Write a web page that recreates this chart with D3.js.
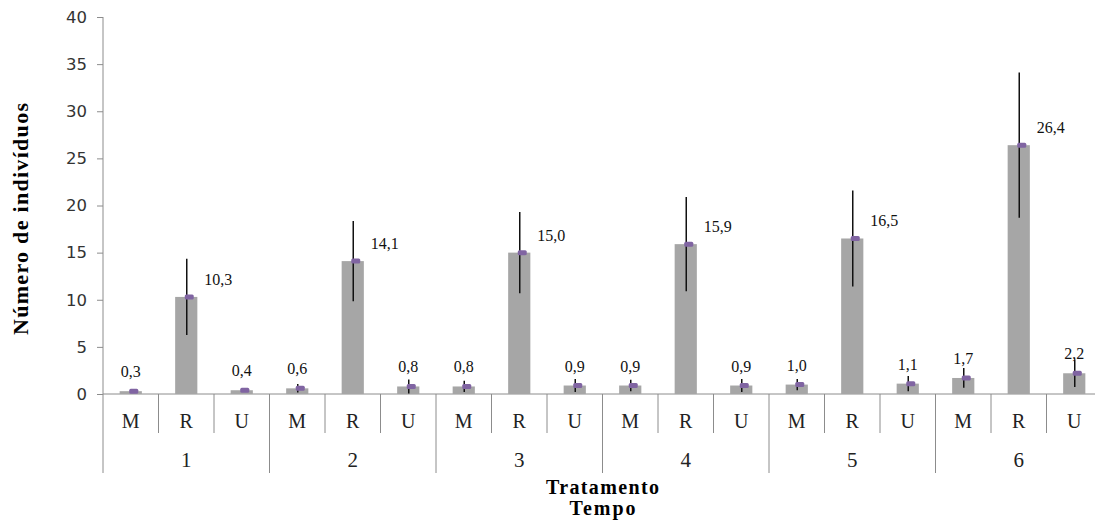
<!DOCTYPE html>
<html>

<head>
    <meta charset="UTF-8" />
    <title>Número de indivíduos</title>
    <style>
        body {
            margin: 0;
            padding: 0;
            background-color: #fff;
            overflow: hidden;
        }

        svg {
            display: block;
        }

        .axis text {
            fill: #333;
        }
    </style>
</head>

<body>
    <div class="container"></div>

    <script src="https://cdnjs.cloudflare.com/ajax/libs/d3/7.8.5/d3.min.js"></script>
    <script>
        // data
        const tempos = ["1", "2", "3", "4", "5", "6"]
        const tratamentos = ["M", "R", "U"]
        const meanM = [0.3, 0.6, 0.8, 0.9, 1.0, 1.7]
        const meanR = [10.3, 14.1, 15.0, 15.9, 16.5, 26.4]
        const meanU = [0.4, 0.8, 0.9, 0.9, 1.1, 2.2]
        const errM = [0.2, 0.45, 0.6, 0.6, 0.6, 1.05]
        const errR = [4.05, 4.25, 4.3, 5.0, 5.1, 7.7]
        const errU = [0.2, 0.75, 0.7, 0.7, 0.8, 1.45]
        const yTicks = [0, 5, 10, 15, 20, 25, 30, 35, 40]

        const drawChart = () => {
            const width = 1095
            const height = 523
            const margin = { left: 103, right: -7, top: 17, bottom: 129 }

            const means = { M: meanM, R: meanR, U: meanU }
            const errs = { M: errM, R: errR, U: errU }

            // one row per bar, tempo x tratamento
            const rows = tempos.flatMap((t, i) => tratamentos.map(tr => ({
                key: t + "-" + tr,
                tempo: t,
                trat: tr,
                value: means[tr][i],
                err: errs[tr][i]
            })))

            const svg = d3.select('.container').append('svg')
                .attr('width', width)
                .attr('height', height)

            const x = d3.scaleBand()
                .domain(rows.map(d => d.key))
                .range([margin.left, width - margin.right])
                .paddingInner(0.6)
                .paddingOuter(0.3)

            const y = d3.scaleLinear()
                .domain([0, 40])
                .range([height - margin.bottom, margin.top])

            const step = x.step()
            const x0 = margin.left
            const y0 = y(0)
            const axisColor = "#8c8c8c"
            const serif = "'Liberation Serif', 'Times New Roman', serif"

            // y axis
            const yAxis = svg.append('g')
                .attr('class', 'axis')
                .attr('transform', `translate(${x0},0)`)
                .call(d3.axisLeft(y).tickValues(yTicks).tickSize(6).tickPadding(10).tickFormat(d3.format('d')))
            yAxis.select('.domain').remove()
            yAxis.selectAll('line').attr('stroke', axisColor)
            yAxis.selectAll('text')
                .attr('font-family', "'DejaVu Sans', Verdana, sans-serif")
                .attr('font-size', 16.5)

            svg.append('line')
                .attr('x1', x0).attr('x2', x0)
                .attr('y1', y(40)).attr('y2', y0 + 79)
                .attr('stroke', axisColor)

            // x axis baseline
            svg.append('line')
                .attr('x1', x0).attr('x2', width - margin.right)
                .attr('y1', y0).attr('y2', y0)
                .attr('stroke', axisColor)

            // separators between categories, longer between groups
            d3.range(1, rows.length + 1).forEach(i => {
                svg.append('line')
                    .attr('x1', x0 + i * step).attr('x2', x0 + i * step)
                    .attr('y1', y0)
                    .attr('y2', i % 3 === 0 ? y0 + 79 : y0 + 39)
                    .attr('stroke', axisColor)
            })

            // category labels
            svg.append('g')
                .selectAll('text')
                .data(rows)
                .join('text')
                .attr('x', d => x(d.key) + x.bandwidth() / 2)
                .attr('y', y0 + 34)
                .attr('text-anchor', 'middle')
                .attr('font-family', serif)
                .attr('font-size', 20)
                .attr('fill', '#222')
                .text(d => d.trat)

            // group labels
            svg.append('g')
                .selectAll('text')
                .data(tempos)
                .join('text')
                .attr('x', (d, i) => x0 + (i * 3 + 1.5) * step)
                .attr('y', y0 + 73)
                .attr('text-anchor', 'middle')
                .attr('font-family', serif)
                .attr('font-size', 21)
                .attr('fill', '#222')
                .text(d => d)

            // bars
            svg.append('g')
                .selectAll('rect')
                .data(rows)
                .join('rect')
                .attr('x', d => x(d.key))
                .attr('y', d => y(d.value))
                .attr('width', x.bandwidth())
                .attr('height', d => y0 - y(d.value))
                .attr('fill', '#a6a6a6')

            // error bars (no caps)
            svg.append('g')
                .selectAll('line')
                .data(rows)
                .join('line')
                .attr('x1', d => x(d.key) + x.bandwidth() / 2 + 0.5)
                .attr('x2', d => x(d.key) + x.bandwidth() / 2 + 0.5)
                .attr('y1', d => y(d.value + d.err))
                .attr('y2', d => y(Math.max(0, d.value - d.err)))
                .attr('stroke', '#111')
                .attr('stroke-width', 1.5)

            // purple dash markers
            svg.append('g')
                .selectAll('rect')
                .data(rows)
                .join('rect')
                .attr('x', d => x(d.key) + x.bandwidth() / 2 - 1.5)
                .attr('y', d => y(d.value) - 2.5)
                .attr('width', 9)
                .attr('height', 5)
                .attr('rx', 1.5)
                .attr('fill', '#8064a2')

            // value labels
            const fmt = v => d3.format('.1f')(v).replace('.', ',')
            svg.append('g')
                .selectAll('text')
                .data(rows)
                .join('text')
                .attr('x', d => x(d.key) + x.bandwidth() / 2 + (d.value > 5 ? 18 : 0))
                .attr('y', d => y(d.value) - (d.value > 5 ? 12 : 14))
                .attr('text-anchor', d => d.value > 5 ? 'start' : 'middle')
                .attr('font-family', serif)
                .attr('font-size', 16)
                .attr('fill', '#111')
                .text(d => fmt(d.value))

            // axis titles
            svg.append('text')
                .attr('transform', `translate(28,${219}) rotate(-90)`)
                .attr('text-anchor', 'middle')
                .attr('font-family', serif)
                .attr('font-weight', 'bold')
                .attr('font-size', 22)
                .attr('textLength', 232)
                .attr('lengthAdjust', 'spacing')
                .text('Número de indivíduos')

            svg.append('text')
                .attr('x', x0 + 9 * step)
                .attr('y', 494)
                .attr('text-anchor', 'middle')
                .attr('font-family', serif)
                .attr('font-weight', 'bold')
                .attr('font-size', 20)
                .attr('textLength', 113)
                .attr('lengthAdjust', 'spacing')
                .text('Tratamento')

            svg.append('text')
                .attr('x', x0 + 9 * step)
                .attr('y', 515)
                .attr('text-anchor', 'middle')
                .attr('font-family', serif)
                .attr('font-weight', 'bold')
                .attr('font-size', 20)
                .attr('textLength', 66)
                .attr('lengthAdjust', 'spacing')
                .text('Tempo')
        }

        drawChart()
    </script>
</body>

</html>
